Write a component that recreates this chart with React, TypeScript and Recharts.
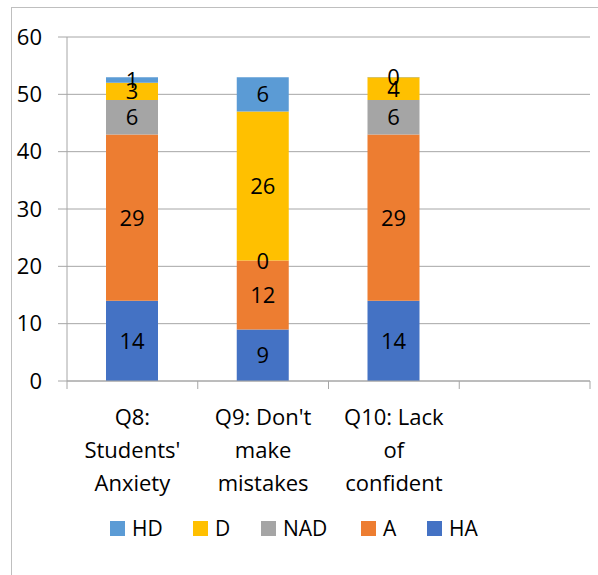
import { BarChart, Bar, XAxis, YAxis, CartesianGrid, LabelList } from 'recharts';

const categories = ['Q8: Students\' Anxiety', 'Q9: Don\'t make mistakes', 'Q10: Lack of confident', ''];
const categoryLines = [['Q8:', 'Students\'', 'Anxiety'], ['Q9: Don\'t', 'make', 'mistakes'], ['Q10: Lack', 'of', 'confident'], []];

const ha = [14, 9, 14];
const a = [29, 12, 29];
const nad = [6, 0, 6];
const d = [3, 26, 4];
const hd = [1, 6, 0];

const yTicks = [0, 10, 20, 30, 40, 50, 60];

const series = [
  { key: 'HA', values: ha, color: '#4472C4' },
  { key: 'A', values: a, color: '#ED7D31' },
  { key: 'NAD', values: nad, color: '#A5A5A5' },
  { key: 'D', values: d, color: '#FFC000' },
  { key: 'HD', values: hd, color: '#5B9BD5' },
];

const data = categories.map((name, i) => {
  const row: Record<string, any> = { name };
  series.forEach((s) => {
    row[s.key] = s.values[i];
  });
  return row;
});

const FONT = '"Open Sans", sans-serif';
const CHART_W = 598;
const CHART_H = 575;
const Y_AXIS_W = 67;
const RIGHT = 8;
const BAND = (CHART_W - Y_AXIS_W - RIGHT) / categories.length;

const XTick = (props: any) => {
  const { x, y, index, payload } = props;
  const lines: string[] = categoryLines[index] || [];
  const axisY = y - 8;
  return (
    <g>
      <line x1={x - BAND / 2} y1={axisY} x2={x - BAND / 2} y2={axisY + 8} stroke="#A6A6A6" />
      {index === categories.length - 1 && (
        <line x1={x + BAND / 2} y1={axisY} x2={x + BAND / 2} y2={axisY + 8} stroke="#A6A6A6" />
      )}
      <text x={x} y={axisY + 44} textAnchor="middle" fontFamily={FONT} fontSize={22} fill="#000">
        {lines.map((l, i) => (
          <tspan key={i} x={x} dy={i === 0 ? 0 : 33}>{l}</tspan>
        ))}
      </text>
      <title>{payload.value}</title>
    </g>
  );
};

const SegLabel = (props: any) => {
  const { x, y, width, height, value } = props;
  if (value === undefined || value === null) return null;
  return (
    <text x={x + width / 2} y={y + height / 2} dy={8} textAnchor="middle" fontFamily={FONT} fontSize={22} fill="#000">
      {value}
    </text>
  );
};

const legendItems = [...series].reverse();
const legendX = [110, 193, 261, 361, 427];

export default function App() {
  return (
    <div style={{ position: 'fixed', left: 0, top: 0, width: CHART_W, height: CHART_H, overflow: 'hidden', background: '#fff' }}>
      <div style={{ position: 'absolute', left: 11, top: 7, width: 700, height: 700, border: '1px solid #BFBFBF' }} />
      <BarChart
        width={CHART_W}
        height={CHART_H}
        data={data}
        margin={{ top: 37, right: RIGHT, left: 0, bottom: 0 }}
        style={{ position: 'absolute', left: 0, top: 0 }}
      >
        <CartesianGrid vertical={false} stroke="#A6A6A6" strokeWidth={1} />
        <XAxis
          dataKey="name"
          height={194}
          interval={0}
          tickLine={false}
          tickSize={8}
          tickMargin={0}
          axisLine={{ stroke: '#A6A6A6' }}
          tick={<XTick />}
        />
        <YAxis
          width={Y_AXIS_W}
          domain={[0, 60]}
          ticks={yTicks}
          tickSize={9}
          tickMargin={16}
          axisLine={{ stroke: '#A6A6A6' }}
          tickLine={{ stroke: '#A6A6A6' }}
          tick={{ fontFamily: FONT, fontSize: 22, fill: '#000' }}
        />
        {series.map((s) => (
          <Bar key={s.key} dataKey={s.key} stackId="a" fill={s.color} barSize={52} minPointSize={0.01} isAnimationActive={false}>
            <LabelList dataKey={s.key} content={<SegLabel />} />
          </Bar>
        ))}
      </BarChart>
      {legendItems.map((s, i) => (
        <div
          key={s.key}
          style={{ position: 'absolute', left: legendX[i], top: 514, display: 'flex', alignItems: 'center', fontFamily: FONT, fontSize: 21, lineHeight: '28px' }}
        >
          <span style={{ display: 'inline-block', width: 15, height: 15, background: s.color, marginRight: 7 }} />
          <span>{s.key}</span>
        </div>
      ))}
    </div>
  );
}
